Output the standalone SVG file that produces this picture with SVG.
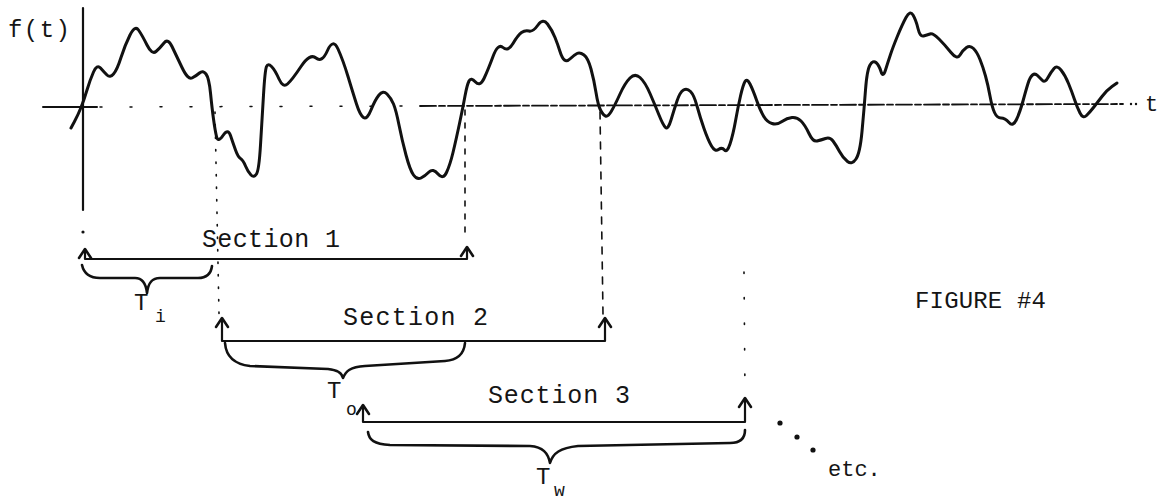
<svg xmlns="http://www.w3.org/2000/svg" width="1162" height="500" viewBox="0 0 1162 500">
<style>
.ink{fill:none;stroke:#111;stroke-linecap:round;stroke-linejoin:round}
.wave{stroke-width:3}
.sec{stroke-width:2.2}
.brace{stroke-width:2.6}
.proj{stroke-width:1.6}
.txt{font-family:"Liberation Mono","DejaVu Sans Mono",monospace;fill:#151515}
</style>
<defs>
<path id="ah" d="M-6,9 L0,0 L6,9" fill="none" stroke="#111" stroke-width="2.6" stroke-linecap="round" stroke-linejoin="round"/>
</defs>
<rect width="1162" height="500" fill="#fff"/>
<g id="axes">
<line class="ink" x1="83" y1="8" x2="83" y2="210" stroke-width="2.2"/>
<line class="ink" x1="43" y1="107" x2="97" y2="107" stroke-width="2"/>
<line class="ink" x1="100" y1="107" x2="420" y2="106" stroke-width="1.5" stroke-dasharray="2 28"/>
<line class="ink" x1="420" y1="106" x2="1123" y2="104" stroke-width="1.8" stroke-dasharray="16 3 6 3"/>
<circle cx="1131" cy="104" r="1.2" fill="#111"/>
<circle cx="1136" cy="104" r="1.2" fill="#111"/>
<circle cx="83" cy="232" r="1.6" fill="#111"/>
<text class="txt" x="8" y="37" font-size="24" textLength="62">f(t)</text>
<text class="txt" x="1145" y="111" font-size="22">t</text>
</g>
<g id="waveform">
<path class="ink wave" d="M71,128 L74.5,121.5 Q78,115 81,107.5 Q84,100 87,90 Q90,80 93.5,72 Q97,64 100.5,68 Q104,72 107,75 Q110,78 113.5,74 Q117,70 121,57.5 Q125,45 130,35 Q135,25 138.5,30 Q142,35 147,45 Q152,55 156,51.5 Q160,48 164,43 Q168,38 172,46.5 Q176,55 182,67.5 Q188,80 192,78 Q196,76 199.5,73 Q203,70 206,74 Q209,78 210.5,93 Q212,108 213.5,119 Q215,130 216.5,136.5 Q218,143 223,135.5 Q228,128 230.5,135.5 Q233,143 235.5,150 Q238,157 240.5,158.5 Q243,160 245.5,166 Q248,172 251,175 Q254,178 256.5,174 Q259,170 260.5,145 Q262,120 263.5,95 Q265,70 266.5,66.5 Q268,63 271.5,66.5 Q275,70 279,79 Q283,88 287.5,84 Q292,80 301,66.5 Q310,53 316,58 Q322,63 327.5,50.5 Q333,38 338,49 Q343,60 348,76.5 Q353,93 356.5,104 Q360,115 363.5,117.5 Q367,120 371,110 Q375,100 379,95 Q383,90 387,94 Q391,98 393.5,104 Q396,110 399,125 Q402,140 406,155 Q410,170 413.5,175 Q417,180 421,178 Q425,176 429,172 Q433,168 438,174 Q443,180 446.5,172.5 Q450,165 453,152.5 Q456,140 459.5,123.5 Q463,107 465,96 Q467,85 469,81 Q471,77 475.5,82 Q480,87 484,78.5 Q488,70 493,56.5 Q498,43 503,47.5 Q508,52 513,43.5 Q518,35 521.5,32.5 Q525,30 529,31 Q533,32 538,25 Q543,18 547.5,24 Q552,30 555,37.5 Q558,45 560,51.5 Q562,58 564.5,60 Q567,62 570.5,58.5 Q574,55 577,53.5 Q580,52 584,55 Q588,58 591,69 Q594,80 596,92.5 Q598,105 600.5,110 Q603,115 605.5,116 Q608,117 611.5,111 Q615,105 620,94 Q625,83 630,78 Q635,73 640,77.5 Q645,82 650,93.5 Q655,105 659,115 Q663,125 665.5,127.5 Q668,130 671,120 Q674,110 677,101 Q680,92 683.5,90 Q687,88 690.5,91.5 Q694,95 697,106 Q700,117 704,128.5 Q708,140 711.5,146 Q715,152 718.5,149.5 Q722,147 724.5,150 Q727,153 730,144 Q733,135 735.5,121 Q738,107 740.5,96 Q743,85 745,81.5 Q747,78 750,84 Q753,90 756.5,100 Q760,110 763.5,116 Q767,122 772,123.5 Q777,125 782,121.5 Q787,118 792,117.5 Q797,117 801,121 Q805,125 809,133.5 Q813,142 817,141 Q821,140 825.5,138.5 Q830,137 833,141 Q836,145 839.5,151.5 Q843,158 847.5,161.5 Q852,165 856,159 Q860,153 862,131.5 Q864,110 865.5,90 Q867,70 870,65 Q873,60 876,62.5 Q879,65 881,71.5 Q883,78 885.5,70 Q888,62 890.5,54.5 Q893,47 897.5,36 Q902,25 906,17.5 Q910,10 913,15 Q916,20 918,28.5 Q920,37 923.5,36 Q927,35 930,34 Q933,33 939,39 Q945,45 951,52.5 Q957,60 960,55 Q963,50 966.5,47.5 Q970,45 973.5,48.5 Q977,52 980,59.5 Q983,67 985.5,76 Q988,85 990,96 Q992,107 994.5,112.5 Q997,118 1001,118 Q1005,118 1009,122.5 Q1013,127 1016.5,119.5 Q1020,112 1023,101 Q1026,90 1028,83.5 Q1030,77 1032.5,75 Q1035,73 1037.5,75.5 Q1040,78 1042.5,80.5 Q1045,83 1048,77.5 Q1051,72 1054,68.5 Q1057,65 1061,70 Q1065,75 1068.5,83.5 Q1072,92 1074.5,99.5 Q1077,107 1080,113 Q1083,119 1086.5,115.5 Q1090,112 1093.5,107.5 Q1097,103 1102,96.5 Q1107,90 1112,86.5 L1117,83"/>
</g>
<g id="connectors">
<line class="ink proj" x1="215" y1="112" x2="219" y2="314" stroke-dasharray="1.5 11"/>
<line class="ink proj" x1="465" y1="110" x2="465" y2="240" stroke-dasharray="5 8"/>
<line class="ink proj" x1="600" y1="112" x2="603" y2="314" stroke-dasharray="7 8"/>
<line class="ink proj" x1="744" y1="272" x2="745" y2="394" stroke-dasharray="1.5 24"/>
</g>
<g id="section1">
<path class="ink sec" d="M85,250 V259 H467 V249"/>
<use href="#ah" x="85" y="249"/>
<use href="#ah" x="467" y="247"/>
<text class="txt" x="202" y="247" font-size="25" textLength="138">Section 1</text>
</g>
<g id="section2">
<path class="ink sec" d="M222,319 V341 H605 V319"/>
<use href="#ah" x="222" y="318"/>
<use href="#ah" x="605" y="318"/>
<text class="txt" x="343" y="325" font-size="25" textLength="145">Section 2</text>
</g>
<g id="section3">
<path class="ink sec" d="M363,406 V422 H745 V399"/>
<use href="#ah" x="363" y="405"/>
<use href="#ah" x="745" y="398"/>
<text class="txt" x="488" y="403" font-size="25" textLength="142">Section 3</text>
</g>
<g id="brace-Ti">
<path class="ink brace" d="M82,265 C84,274 90,278 100,278 L135,278 C143,278 146,284 147,293 C148,284 151,278 160,278 L198,278 C206,278 211,274 212,266"/>
<text class="txt" x="134" y="310" font-size="24">T</text>
<text class="txt" x="155" y="322" font-size="18">i</text>
</g>
<g id="brace-To">
<path class="ink brace" d="M225,343 C226,356 233,364 250,366 L328,369 C338,370 342,373 343,378 C346,371 350,367 365,366 L445,361 C458,360 464,354 465,343"/>
<text class="txt" x="327" y="398" font-size="24">T</text>
<text class="txt" x="346" y="415" font-size="18">o</text>
</g>
<g id="brace-Tw">
<path class="ink brace" d="M368,432 C369,440 374,444 390,445 L530,446 C543,447 548,453 550,463 C553,453 560,448 578,446 L730,443 C741,443 745,438 745,430"/>
<text class="txt" x="536" y="484" font-size="24">T</text>
<text class="txt" x="554" y="496" font-size="18">w</text>
</g>
<g id="etc">
<circle cx="780" cy="423" r="2.6" fill="#111"/>
<circle cx="797" cy="437" r="2.6" fill="#111"/>
<circle cx="813" cy="450" r="2.6" fill="#111"/>
<text class="txt" x="828" y="476" font-size="22">etc.</text>
</g>
<g id="caption">
<text class="txt" x="915" y="308" font-size="24" textLength="131">FIGURE #4</text>
</g>
</svg>
